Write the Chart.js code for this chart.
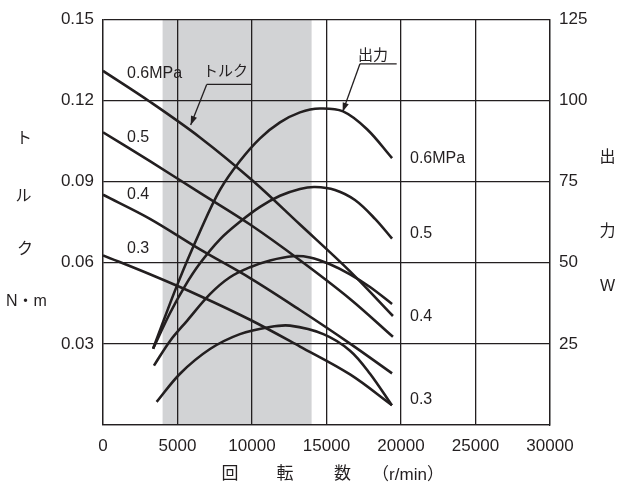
<!DOCTYPE html>
<html><head><meta charset="utf-8">
<script src="https://cdn.jsdelivr.net/npm/chart.js@4"></script>
<style>html,body{margin:0;padding:0;background:#fff;}canvas{display:block;}</style>
</head><body>
<canvas id="c" width="618" height="488"></canvas>
<script>
// ---- data ----
const rpmTicks = [0, 5000, 10000, 15000, 20000, 25000, 30000];
const torqueTicks = [0.03, 0.06, 0.09, 0.12, 0.15];
const powerTicks = [25, 50, 75, 100, 125];
const pressures = ['0.6MPa', '0.5', '0.4', '0.3'];
const shadedRange = [4000, 14000];

// torque (N·m) vs rotational speed (r/min)
const torqueRpm06 = [0, 3150, 6510, 10070, 13220, 16580, 19460];
const torque06    = [0.1309, 0.1195, 0.1063, 0.0902, 0.0741, 0.0568, 0.0403];
const torqueRpm05 = [0, 3150, 6510, 9870, 13220, 16580, 19460];
const torque05    = [0.1082, 0.0975, 0.0858, 0.0741, 0.0609, 0.0466, 0.0326];
const torqueRpm04 = [0, 3150, 6510, 9870, 13220, 16580, 19400];
const torque04    = [0.0851, 0.0762, 0.0649, 0.0543, 0.0425, 0.0301, 0.0191];
const torqueRpm03 = [0, 3150, 6510, 9870, 13220, 16580, 19400];
const torque03    = [0.0627, 0.0557, 0.0477, 0.0389, 0.0290, 0.0187, 0.0073];

// output (W) vs rotational speed (r/min)
const powerRpm06 = [3360, 5030, 6510, 7850, 9190, 10540, 11880, 13220, 14560, 16110, 17720, 19400];
const power06    = [23.5, 43.7, 59.6, 72.4, 81.3, 88.3, 93.2, 96.3, 97.5, 96.6, 91.1, 82.2];
const powerRpm05 = [3360, 4500, 5500, 6510, 7850, 9190, 10540, 11880, 13220, 14230, 15570, 16910, 18260, 19400];
const power05    = [23.5, 34.5, 42.8, 49.8, 57.2, 62.6, 67.2, 70.6, 72.7, 73.3, 72.4, 69.3, 63.5, 57.4];
const powerRpm04 = [3420, 4500, 5640, 7180, 8520, 9870, 11210, 12750, 13890, 15230, 16580, 17920, 19400];
const power04    = [18.3, 25.9, 32.1, 40.3, 45.5, 48.6, 50.7, 52.0, 51.6, 49.5, 46.4, 42.5, 37.3];
const powerRpm03 = [3600, 5170, 7180, 9190, 11200, 12550, 14790, 16580, 17920, 19380];
const power03    = [7.1, 15.8, 23.4, 28.0, 30.2, 30.6, 28.0, 22.9, 15.8, 6.1];

// ---- build ----
const INK = '#231f20';
const FONT = '"Liberation Sans", Arial, Helvetica, sans-serif';
const JFONT = '"Liberation Sans", "Noto Sans CJK JP", sans-serif';
const pts = (xs, ys) => xs.map((x, i) => ({x, y: ys[i]}));
const ds = (xs, ys, axis) => ({data: pts(xs, ys), yAxisID: axis, borderColor: INK, borderWidth: 2.6,
  pointRadius: 0, tension: 0.35, fill: false, borderCapStyle: 'butt'});

const datasets = [
  ds(torqueRpm06, torque06, 'y'), ds(torqueRpm05, torque05, 'y'),
  ds(torqueRpm04, torque04, 'y'), ds(torqueRpm03, torque03, 'y'),
  ds(powerRpm06, power06, 'y2'), ds(powerRpm05, power05, 'y2'),
  ds(powerRpm04, power04, 'y2'), ds(powerRpm03, power03, 'y2')
];

const bgPlugin = {
  id: 'bg',
  beforeDraw(chart) {
    const {ctx, chartArea: a, scales: {x}} = chart;
    ctx.save();
    ctx.fillStyle = '#fff';
    ctx.fillRect(0, 0, chart.width, chart.height);
    ctx.fillStyle = '#d2d3d5';
    const x0 = x.getPixelForValue(shadedRange[0]), x1 = x.getPixelForValue(shadedRange[1]);
    ctx.fillRect(x0, a.top, x1 - x0, a.bottom - a.top);
    ctx.restore();
  }
};

function arrow(ctx, fx, fy, tx, ty) {
  ctx.beginPath(); ctx.moveTo(fx, fy); ctx.lineTo(tx, ty); ctx.stroke();
  const ang = Math.atan2(ty - fy, tx - fx), L = 9, W = 3.2;
  ctx.beginPath();
  ctx.moveTo(tx, ty);
  ctx.lineTo(tx - L * Math.cos(ang) + W * Math.sin(ang), ty - L * Math.sin(ang) - W * Math.cos(ang));
  ctx.lineTo(tx - L * Math.cos(ang) - W * Math.sin(ang), ty - L * Math.sin(ang) + W * Math.cos(ang));
  ctx.closePath(); ctx.fill();
}

const annoPlugin = {
  id: 'anno',
  afterDraw(chart) {
    const {ctx, chartArea: a, scales: {x, y}} = chart;
    const X = v => x.getPixelForValue(v), Y = v => y.getPixelForValue(v);
    ctx.save();
    ctx.fillStyle = INK; ctx.strokeStyle = INK;
    ctx.textBaseline = 'middle';
    ctx.font = '16px ' + FONT; ctx.textAlign = 'left';
    const leftY = [0.130, 0.1063, 0.0851, 0.0651];
    pressures.forEach((p, i) => ctx.fillText(p, X(1611), Y(leftY[i])));
    const rightY = [0.0986, 0.0708, 0.040, 0.0095];
    pressures.forEach((p, i) => ctx.fillText(p, X(20603), Y(rightY[i])));
    ctx.font = '15px ' + JFONT;
    ctx.fillText('トルク', X(6711), Y(0.1305));
    ctx.lineWidth = 1.3;
    ctx.beginPath(); ctx.moveTo(X(9980), Y(0.1259)); ctx.lineTo(X(6960), Y(0.1259)); ctx.stroke();
    arrow(ctx, X(6960), Y(0.1259), X(5885), Y(0.1109));
    ctx.textAlign = 'center';
    ctx.fillText('出力', X(18120), Y(0.1366));
    ctx.beginPath(); ctx.moveTo(X(19710), Y(0.1335)); ctx.lineTo(X(17247), Y(0.1335)); ctx.stroke();
    arrow(ctx, X(17247), Y(0.1335), X(16086), Y(0.1158));
    ctx.font = '16px ' + JFONT; ctx.textAlign = 'center';
    const L = a.left;
    ctx.fillText('ト', L - 79, 139);
    ctx.fillText('ル', L - 79.5, 197);
    ctx.fillText('ク', L - 78, 250);
    ctx.fillText('N・m', L - 76.5, 301.5);
    const R = a.right;
    ctx.fillText('出', R + 57.5, 158);
    ctx.fillText('力', R + 57.5, 232);
    ctx.fillText('W', R + 57.5, 286.5);
    ctx.font = '17px ' + JFONT;
    const B = a.bottom;
    ctx.fillText('回', 230, B + 49);
    ctx.fillText('転', 285, B + 49);
    ctx.fillText('数', 342.5, B + 49);
    ctx.fillText('（r/min）', 408, B + 50);
    ctx.restore();
  }
};

const gridOpt = {color: INK, lineWidth: 1.3, drawTicks: false};
new Chart(document.getElementById('c'), {
  type: 'line',
  data: {datasets},
  options: {
    responsive: false, animation: false, devicePixelRatio: 1,
    layout: {padding: {top: 15, left: 0, right: 0, bottom: 0}},
    plugins: {legend: {display: false}, tooltip: {enabled: false}},
    scales: {
      x: {type: 'linear', min: rpmTicks[0], max: rpmTicks[rpmTicks.length - 1],
        afterBuildTicks: s => { s.ticks = rpmTicks.map(v => ({value: v})); },
        ticks: {color: INK, font: {size: 17, family: FONT}, padding: 11, maxRotation: 0, callback: v => String(v)},
        grid: gridOpt, border: {display: true, color: INK, width: 1.3},
        afterFit: s => { s.height = 63; }},
      y: {type: 'linear', position: 'left', min: 0, max: torqueTicks[torqueTicks.length - 1],
        afterBuildTicks: s => { s.ticks = [0, ...torqueTicks].map(v => ({value: v})); },
        ticks: {color: INK, font: {size: 17, family: FONT}, padding: 9, callback: v => v === 0 ? '' : v.toFixed(2)},
        grid: gridOpt, border: {display: true, color: INK, width: 1.3},
        afterFit: s => { s.width = 103; }},
      y2: {type: 'linear', position: 'right', min: 0, max: powerTicks[powerTicks.length - 1],
        afterBuildTicks: s => { s.ticks = [0, ...powerTicks].map(v => ({value: v})); },
        ticks: {color: INK, font: {size: 17, family: FONT}, padding: 9, callback: v => v === 0 ? '' : String(v)},
        grid: {display: false, drawTicks: false}, border: {display: true, color: INK, width: 1.3},
        afterFit: s => { s.width = 68; }}
    }
  },
  plugins: [bgPlugin, annoPlugin]
});
</script>
</body></html>
